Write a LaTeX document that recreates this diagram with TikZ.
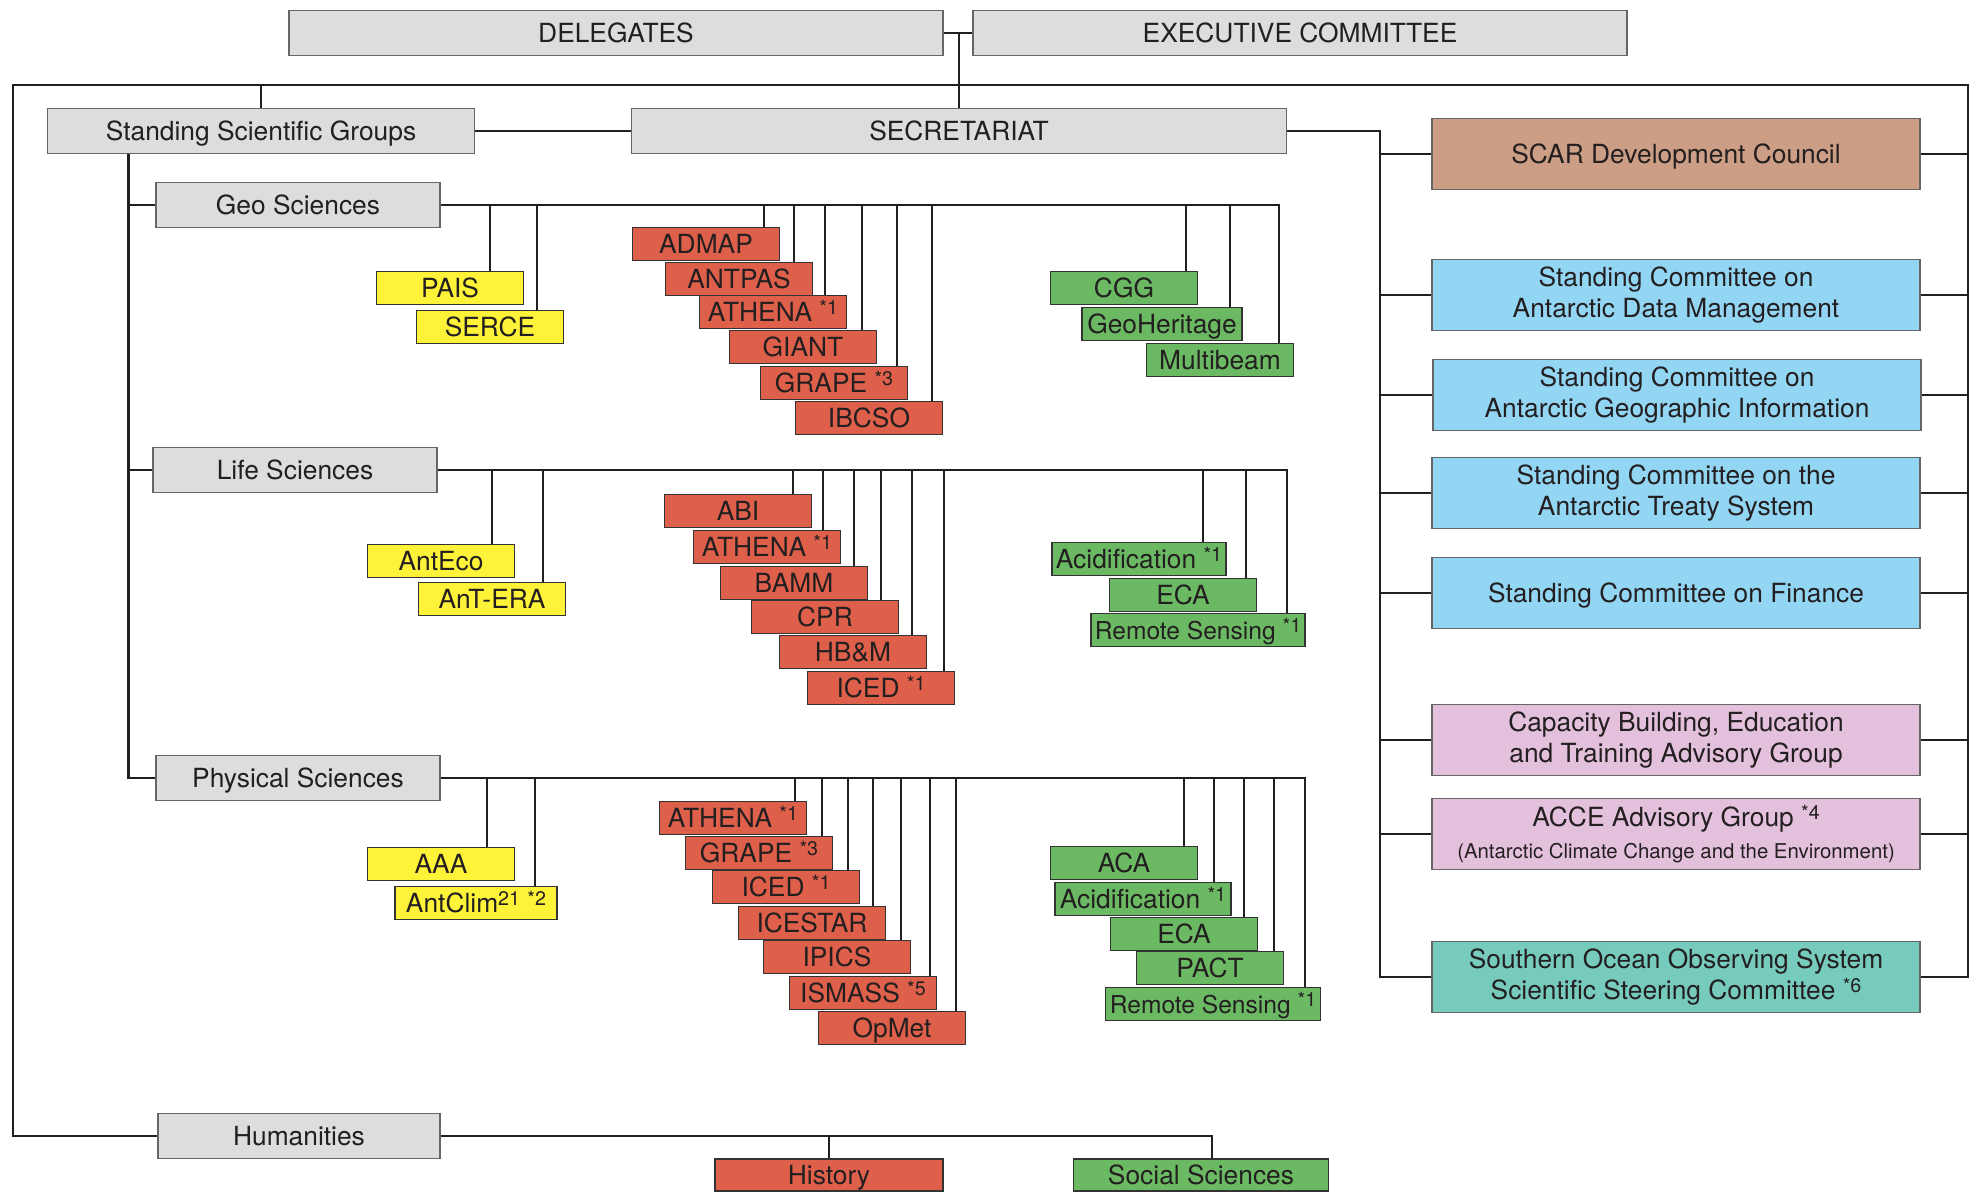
\documentclass[tikz,border=0pt]{standalone}
\usepackage{fontspec}
\setmainfont{TeX Gyre Heros}
\usepackage{tikz}

\definecolor{ink}{HTML}{231F20}
\definecolor{boxgrey}{HTML}{DCDDDE}
\definecolor{scarred}{HTML}{DE604A}
\definecolor{scaryellow}{HTML}{FFF33A}
\definecolor{scargreen}{HTML}{6BBA63}
\definecolor{scarblue}{HTML}{93D6F4}
\definecolor{scarpink}{HTML}{E3C1DC}
\definecolor{scarbrown}{HTML}{CC9E85}
\definecolor{scarteal}{HTML}{77CBBD}
\newcommand{\mainsz}{\fontsize{7.5}{9}\selectfont}
\newcommand{\notesz}{\fontsize{5.8}{7}\selectfont}
\newcommand{\tightsz}{\fontsize{7}{8}\selectfont}
\newcommand{\starnote}[1]{\raisebox{2.1pt}{\fontsize{5.6}{6}\selectfont #1}}

\begin{document}
\begin{tikzpicture}[x=0.1mm,y=-0.1mm]
	\tikzstyle{every node}=[font=\mainsz,text=ink,inner sep=0pt]
	\tikzstyle{greybox}=[draw=black!60,fill=boxgrey,minimum height=4.5mm,text height=5.4pt,text depth=0pt]
	\tikzstyle{panel}=[draw=black!60,minimum width=48.8mm,minimum height=7.1mm,align=center]
	\tikzstyle{tag}=[draw=black!80,minimum width=14.7mm,minimum height=3.3mm,text height=5.4pt,text depth=0pt]
	\tikzstyle{redtag}=[tag,fill=scarred]
	\tikzstyle{yeltag}=[tag,fill=scaryellow]
	\tikzstyle{grntag}=[tag,fill=scargreen]
	\tikzstyle{link}=[line width=0.8pt,ink]
	\tikzstyle{drop}=[line width=0.55pt,ink]

	\useasboundingbox (0,0) rectangle (1982,1192);

	%%Top level
	\node [greybox,minimum width=65.4mm] (dele) at (616,33) {DELEGATES};
	\node [greybox,minimum width=65.4mm] (exec) at (1300,33) {EXECUTIVE COMMITTEE};
	\node [greybox,minimum width=42.7mm] (ssg) at (261,131) {Standing Scientific Groups};
	\node [greybox,minimum width=65.5mm] (sec) at (959,131) {SECRETARIAT};

	%%Geo Sciences
	\node [greybox,minimum width=28.4mm] (geo) at (298,205) {Geo Sciences};
	\node [yeltag] (pais) at (450,288) {PAIS};
	\node [yeltag] (serce) at (490,327) {SERCE};
	\node [redtag] (admap) at (706,244) {ADMAP};
	\node [redtag] (antpas) at (739,279) {ANTPAS};
	\node [redtag] (gathena) at (773,312) {ATHENA \starnote{*1}};
	\node [redtag] (giant) at (803,347) {GIANT};
	\node [redtag] (ggrape) at (834,383) {GRAPE \starnote{*3}};
	\node [redtag] (ibcso) at (869,418) {IBCSO};
	\node [grntag] (cgg) at (1124,288) {CGG};
	\node [grntag,minimum width=16mm] (geoher) at (1162,324) {GeoHeritage};
	\node [grntag] (multib) at (1220,360) {Multibeam};

	%%Life Sciences
	\node [greybox,minimum width=28.4mm] (life) at (295,470) {Life Sciences};
	\node [yeltag] (anteco) at (441,561) {AntEco};
	\node [yeltag] (antera) at (492,599) {AnT-ERA};
	\node [redtag] (abi) at (738,511) {ABI};
	\node [redtag] (lathena) at (767,547) {ATHENA \starnote{*1}};
	\node [redtag] (bamm) at (794,583) {BAMM};
	\node [redtag] (cpr) at (825,617) {CPR};
	\node [redtag] (hbm) at (853,652) {HB\&M};
	\node [redtag] (liced) at (881,688) {ICED \starnote{*1}};
	\node [grntag,minimum width=17.4mm] (lacid) at (1139,559) {Acidification \starnote{*1}};
	\node [grntag] (leca) at (1183,595) {ECA};
	\node [grntag,minimum width=21.4mm,font=\tightsz] (lremote) at (1198,630) {Remote Sensing \starnote{*1}};

	%%Physical Sciences
	\node [greybox,minimum width=28.4mm] (phys) at (298,778) {Physical Sciences};
	\node [yeltag] (aaa) at (441,864) {AAA};
	\node [yeltag,minimum width=16.2mm] (antclim) at (476,903) {AntClim\starnote{21} \starnote{*2}};
	\node [redtag] (pathena) at (733,818) {ATHENA \starnote{*1}};
	\node [redtag] (pgrape) at (759,853) {GRAPE \starnote{*3}};
	\node [redtag] (piced) at (786,887) {ICED \starnote{*1}};
	\node [redtag] (icestar) at (812,923) {ICESTAR};
	\node [redtag] (ipics) at (837,957) {IPICS};
	\node [redtag] (ismass) at (863,993) {ISMASS \starnote{*5}};
	\node [redtag] (opmet) at (892,1028) {OpMet};
	\node [grntag] (aca) at (1124,863) {ACA};
	\node [grntag,minimum width=17.6mm] (pacid) at (1143,899) {Acidification \starnote{*1}};
	\node [grntag] (peca) at (1184,934) {ECA};
	\node [grntag] (pact) at (1210,968) {PACT};
	\node [grntag,minimum width=21.5mm,font=\tightsz] (premote) at (1213,1004) {Remote Sensing \starnote{*1}};

	%%Humanities
	\node [greybox,minimum width=28.2mm] (hum) at (299,1136) {Humanities};
	\node [redtag,minimum width=22.8mm,minimum height=3.2mm] (hist) at (829,1175) {History};
	\node [grntag,minimum width=25.5mm,minimum height=3.2mm] (socsci) at (1201,1175) {Social Sciences};

	%%Committees
	\node [panel,fill=scarbrown,text height=5.4pt,text depth=0pt] (sdc) at (1676,154) {SCAR Development Council};
	\node [panel,fill=scarblue] (scadm) at (1676,295) {Standing Committee on\\Antarctic Data Management};
	\node [panel,fill=scarblue] (scagi) at (1677,395) {Standing Committee on\\Antarctic Geographic Information};
	\node [panel,fill=scarblue] (scats) at (1676,493) {Standing Committee on the\\Antarctic Treaty System};
	\node [panel,fill=scarblue,text height=5.4pt,text depth=0pt] (scfin) at (1676,593) {Standing Committee on Finance};
	\node [panel,fill=scarpink] (cbet) at (1676,740) {Capacity Building, Education\\and Training Advisory Group};
	\node [panel,fill=scarpink] (acce) at (1676,834) {ACCE Advisory Group \starnote{*4}\\{\notesz (Antarctic Climate Change and the Environment)}};
	\node [panel,fill=scarteal] (soos) at (1676,977) {Southern Ocean Observing System\\Scientific Steering Committee \starnote{*6}};

	%%Frame and main links
	\coordinate (ftl) at (13,85);
	\coordinate (ftr) at (1968,85);
	\coordinate (rsp) at (1380,131);
	\coordinate (lsp) at ([xshift=8.2mm]ssg.south west);
	\draw [link] (dele.east) -- (exec.west);
	\draw [link] (sec.north) -- (sec.north |- dele.east);
	\draw [link] (hum.west) -| (ftl) -- (ftr) |- (soos.east);
	\draw [link] (ssg.north) -- (ssg.north |- ftl);
	\draw [link] (ssg.east) -- (sec.west);
	\draw [link] (sec.east) -- (rsp) |- (soos.west);
	\draw [link] (rsp) |- (sdc.west) (rsp) |- (scadm.west) (rsp) |- (scagi.west) (rsp) |- (scats.west)
		(rsp) |- (scfin.west) (rsp) |- (cbet.west) (rsp) |- (acce.west);
	\draw [link] (sdc.east) -- (sdc.east -| ftr) (scadm.east) -- (scadm.east -| ftr) (scagi.east) -- (scagi.east -| ftr)
		(scats.east) -- (scats.east -| ftr) (scfin.east) -- (scfin.east -| ftr) (cbet.east) -- (cbet.east -| ftr)
		(acce.east) -- (acce.east -| ftr);
	\draw [link] (lsp) |- (phys.west) (lsp) |- (geo.west) (lsp) |- (life.west);

	%%Geo drops
	\draw [drop] ([xshift=-3.4mm]pais.north east) |- (geo.east) ([xshift=-2.7mm]serce.north east) |- (geo.east)
		([xshift=-1.65mm]admap.north east) |- (geo.east) ([xshift=-1.9mm]antpas.north east) |- (geo.east)
		([xshift=-2.2mm]gathena.north east) |- (geo.east) ([xshift=-1.5mm]giant.north east) |- (geo.east)
		([xshift=-1.15mm]ggrape.north east) |- (geo.east) ([xshift=-1.15mm]ibcso.north east) |- (geo.east)
		([xshift=-1.25mm]cgg.north east) |- (geo.east) ([xshift=-1.25mm]geoher.north east) |- (geo.east)
		([xshift=-1.5mm]multib.north east) |- (geo.east);
	\draw [link,shorten >=1.5mm] (geo.east) -- (geo.east -| multib.north east);

	%%Life drops
	\draw [drop] ([xshift=-2.3mm]anteco.north east) |- (life.east) ([xshift=-2.3mm]antera.north east) |- (life.east)
		([xshift=-1.9mm]abi.north east) |- (life.east) ([xshift=-1.8mm]lathena.north east) |- (life.east)
		([xshift=-1.4mm]bamm.north east) |- (life.east) ([xshift=-1.8mm]cpr.north east) |- (life.east)
		([xshift=-1.5mm]hbm.north east) |- (life.east) ([xshift=-1.1mm]liced.north east) |- (life.east)
		([xshift=-2.4mm]lacid.north east) |- (life.east) ([xshift=-1.15mm]leca.north east) |- (life.east)
		([xshift=-1.9mm]lremote.north east) |- (life.east);
	\draw [link,shorten >=1.9mm] (life.east) -- (life.east -| lremote.north east);

	%%Physical drops
	\draw [drop] ([xshift=-2.8mm]aaa.north east) |- (phys.east) ([xshift=-2.3mm]antclim.north east) |- (phys.east)
		([xshift=-1.25mm]pathena.north east) |- (phys.east) ([xshift=-1.15mm]pgrape.north east) |- (phys.east)
		([xshift=-1.25mm]piced.north east) |- (phys.east) ([xshift=-1.3mm]icestar.north east) |- (phys.east)
		([xshift=-1mm]ipics.north east) |- (phys.east) ([xshift=-0.75mm]ismass.north east) |- (phys.east)
		([xshift=-1mm]opmet.north east) |- (phys.east) ([xshift=-1.4mm]aca.north east) |- (phys.east)
		([xshift=-1.75mm]pacid.north east) |- (phys.east) ([xshift=-1.4mm]peca.north east) |- (phys.east)
		([xshift=-1mm]pact.north east) |- (phys.east) ([xshift=-1.65mm]premote.north east) |- (phys.east);
	\draw [link,shorten >=1.65mm] (phys.east) -- (phys.east -| premote.north east);

	%%Humanities drops
	\draw [drop] (hist.north) -- (hist.north |- hum.east);
	\draw [link] (hum.east) -| ([xshift=1.1mm]socsci.north);

\end{tikzpicture}
\end{document}
